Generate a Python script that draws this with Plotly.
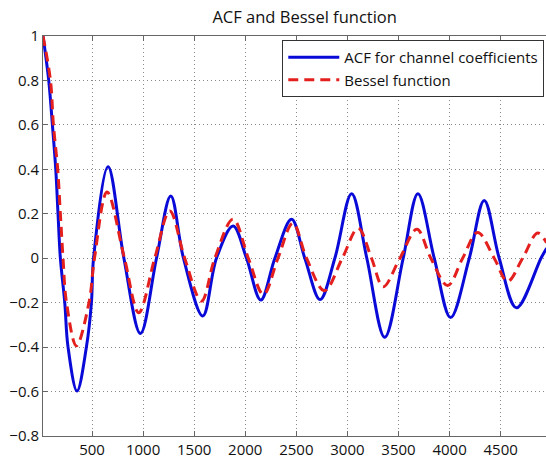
import plotly.graph_objects as go

# ACF for channel coefficients (extrema and zero crossings)
acf_x = [20, 76, 112, 145, 167, 190, 233, 265, 353, 445, 494, 515,
         657, 812, 974, 1131, 1271, 1395, 1584, 1718, 1881, 2012, 2152, 2290,
         2453, 2583, 2732, 2877, 3041, 3190, 3365, 3546, 3690, 3850, 4010, 4193,
         4339, 4486, 4655, 4895, 4950]
acf_y = [1.0, 0.8, 0.6, 0.4, 0.2, 0.0, -0.2, -0.4, -0.598, -0.4, -0.2, 0.0,
         0.412, 0.0, -0.339, 0.0, 0.28, 0.0, -0.26, 0.0, 0.145, 0.0, -0.188, 0.0,
         0.175, 0.0, -0.186, 0.0, 0.29, 0.0, -0.356, 0.0, 0.29, 0.0, -0.267, 0.0,
         0.26, 0.0, -0.223, 0.0, 0.045]

# Bessel function
bes_x = [20, 93, 122, 164, 190, 216, 250, 347, 470, 524,
         647, 817, 957, 1114, 1261, 1407, 1571, 1702, 1881, 2030, 2178, 2320,
         2466, 2600, 2775, 2950, 3105, 3236, 3350, 3514, 3680, 3817, 3981, 4128,
         4275, 4437, 4568, 4715, 4862, 4950]
bes_y = [1.0, 0.8, 0.6, 0.4, 0.2, 0.0, -0.2, -0.394, -0.2, 0.0,
         0.298, 0.0, -0.245, 0.0, 0.213, 0.0, -0.193, 0.0, 0.176, 0.0, -0.163, 0.0,
         0.158, 0.0, -0.146, 0.0, 0.135, 0.0, -0.128, 0.0, 0.13, 0.0, -0.123, 0.0,
         0.116, 0.0, -0.104, 0.0, 0.113, 0.07]

x_ticks = [500, 1000, 1500, 2000, 2500, 3000, 3500, 4000, 4500]
y_ticks = [-0.8, -0.6, -0.4, -0.2, 0, 0.2, 0.4, 0.6, 0.8, 1]
y_tick_text = ["\u22120.8", "\u22120.6", "\u22120.4", "\u22120.2", "0", "0.2", "0.4", "0.6", "0.8", "1"]

FONT = "Open Sans"

fig = go.Figure()
fig.add_trace(go.Scatter(x=acf_x, y=acf_y, mode="lines", name="ACF for channel coefficients",
                         line=dict(color="#0a0ad8", width=3, shape="spline", smoothing=1.0)))
fig.add_trace(go.Scatter(x=bes_x, y=bes_y, mode="lines", name="Bessel function",
                         line=dict(color="#e3201e", width=3, dash="10px,6px", shape="spline", smoothing=1.0)))

fig.update_layout(
    width=546, height=459,
    margin=dict(l=43, r=0, t=36, b=21, pad=0),
    paper_bgcolor="white", plot_bgcolor="white",
    font=dict(family=FONT, size=15, color="#111"),
    title=dict(text="ACF and Bessel function", x=0.558, xanchor="center", xref="container",
               y=0.962, yanchor="middle", yref="container", font=dict(size=16.5, family=FONT, color="#111")),
    showlegend=True,
    legend=dict(x=0.4757, y=0.99, xanchor="left", yanchor="top",
                bgcolor="white", bordercolor="#333", borderwidth=1,
                font=dict(size=15, family=FONT, color="#111"),
                tracegroupgap=0, itemwidth=51),
    xaxis=dict(range=[20, 4944], tickvals=x_ticks, ticktext=[str(v) for v in x_ticks],
               showgrid=True, gridcolor="#8a8a8a", griddash="1px,3px", gridwidth=1,
               showline=True, linecolor="#666", linewidth=1, mirror="ticks",
               ticks="inside", ticklen=5, tickcolor="#666", zeroline=False,
               tickfont=dict(size=15, family=FONT, color="#111")),
    yaxis=dict(range=[-0.8, 1.0], tickvals=y_ticks, ticktext=y_tick_text,
               showgrid=True, gridcolor="#8a8a8a", griddash="1px,3px", gridwidth=1,
               showline=True, linecolor="#666", linewidth=1, mirror=False,
               ticks="inside", ticklen=5, tickcolor="#666", zeroline=False,
               tickfont=dict(size=15, family=FONT, color="#111")),
)

fig.write_html("out.html")
